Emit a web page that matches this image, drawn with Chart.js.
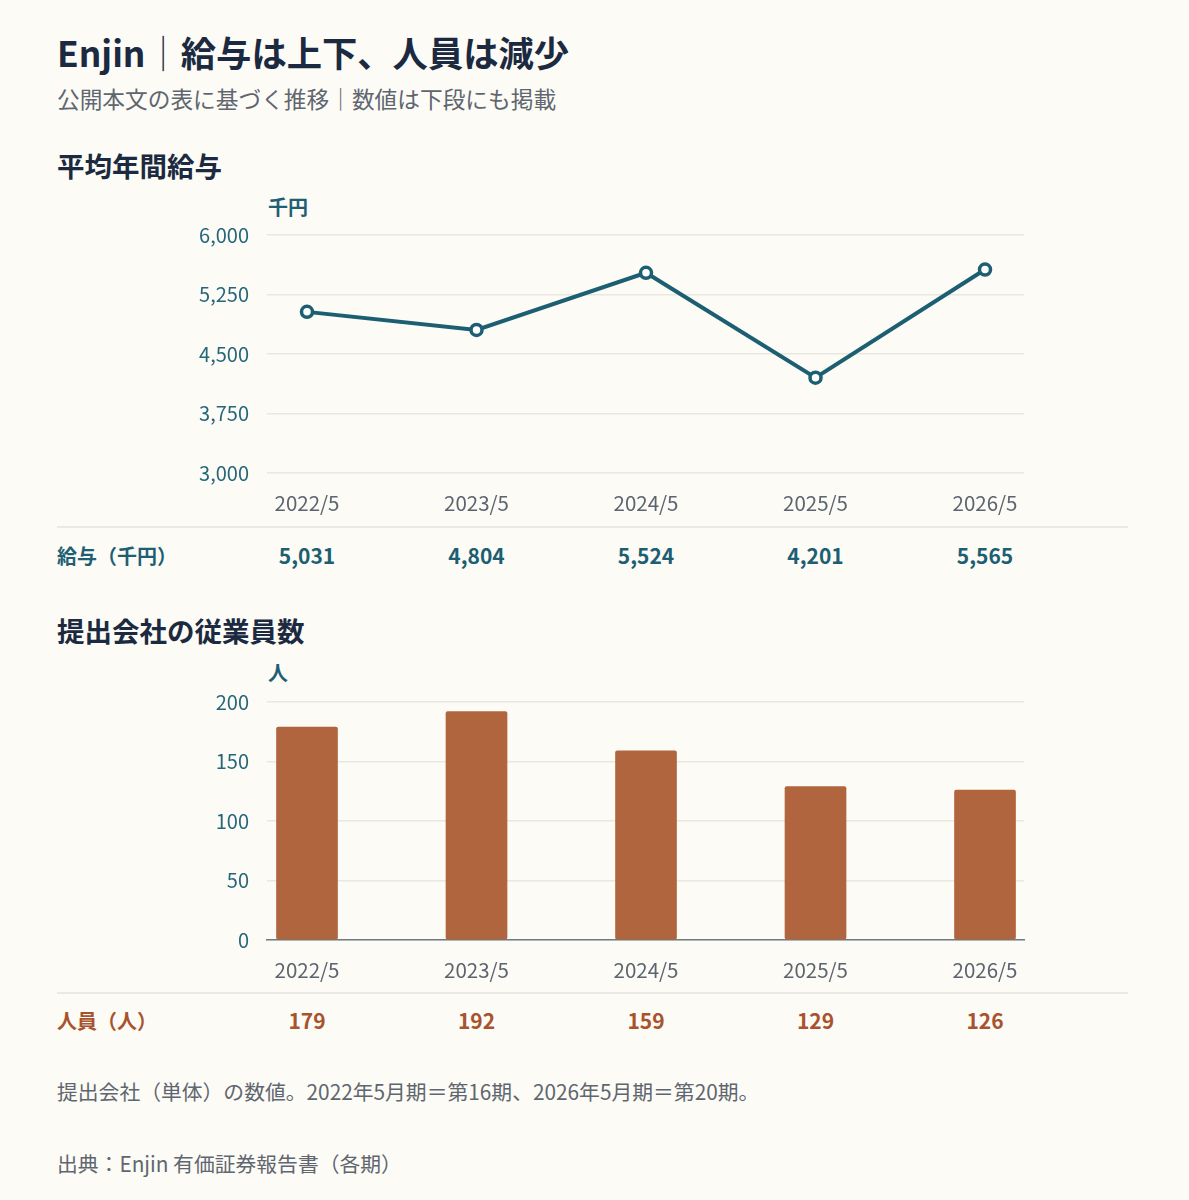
<!DOCTYPE html>
<html lang="ja">
<head>
<meta charset="utf-8">
<title>Enjin 給与と人員</title>
<script src="https://cdn.jsdelivr.net/npm/chart.js@4.4.1/dist/chart.umd.min.js"></script>
<style>
    html, body {
        margin: 0;
        padding: 0;
        background: #fcfbf5;
    }
    body {
        width: 1189px;
        height: 1200px;
        position: relative;
        overflow: hidden;
        font-family: 'Noto Sans CJK JP', 'Noto Sans', sans-serif;
    }
    .txt {
        position: absolute;
        line-height: 1;
        white-space: nowrap;
    }
    .title { left: 57px; top: 34px; font-size: 35.3px; font-weight: 700; color: #1b2a40; }
    .title .sep { font-weight: 300; color: #1b2a40; }
    .subtitle { left: 57px; top: 88px; font-size: 22.7px; color: #5f6670; }
    .section { left: 57px; font-size: 27.5px; font-weight: 700; color: #1b2a40; }
    .unit { left: 268px; font-size: 20px; font-weight: 700; color: #1f5f74; }
    .rowlabel { left: 57px; font-size: 20px; font-weight: 700; }
    .val { font-size: 21px; font-weight: 700; transform: translateX(-50%); }
    .rule { position: absolute; left: 57px; width: 1071px; height: 2px; background: #ebe9e2; }
    .note { left: 57px; font-size: 20.8px; color: #5f6670; }
    canvas { position: absolute; left: 0; }
</style>
</head>
<body>

<div class="txt title">Enjin<span class="sep">｜</span>給与は上下、人員は減少</div>
<div class="txt subtitle">公開本文の表に基づく推移｜数値は下段にも掲載</div>

<div class="txt section" style="top:152px">平均年間給与</div>
<div class="txt unit" style="top:197px">千円</div>
<canvas id="salaryChart" width="1189" height="320" style="top:205px"></canvas>
<div class="rule" style="top:526px"></div>
<div class="txt rowlabel" style="top:546px; color:#1f5f74">給与（千円）</div>
<div id="salaryRow"></div>

<div class="txt section" style="top:617px">提出会社の従業員数</div>
<div class="txt unit" style="top:663px">人</div>
<canvas id="staffChart" width="1189" height="320" style="top:672px"></canvas>
<div class="rule" style="top:992px"></div>
<div class="txt rowlabel" style="top:1011px; color:#a8532d">人員（人）</div>
<div id="staffRow"></div>

<div class="txt note" style="top:1081px">提出会社（単体）の数値。2022年5月期＝第16期、2026年5月期＝第20期。</div>
<div class="txt note" style="top:1153px">出典：Enjin 有価証券報告書（各期）</div>

<script>
// Fiscal periods (May year-end)
const periods = ['2022/5', '2023/5', '2024/5', '2025/5', '2026/5'];

// Average annual salary, thousand yen
const salary = [5031, 4804, 5524, 4201, 5565];

// Employees of the filing company
const staff = [179, 192, 159, 129, 126];

// Y axis ticks
const salaryTicks = [3000, 3750, 4500, 5250, 6000];
const staffTicks = [0, 50, 100, 150, 200];

const TEAL = '#1c5e72';
const RUST = '#b0653f';
const GRID = '#e9e7e0';

Chart.defaults.font.family = "'Noto Sans CJK JP', 'Noto Sans', sans-serif";
Chart.defaults.animation = false;

const fmt = v => v.toLocaleString('en-US');

/**
 * Shared x axis: linear so the grid can run past the first and last period
 */
function periodAxis(borderDisplay) {
    return {
        type: 'linear',
        offset: false,
        min: -0.236,
        max: 4.23,
        afterBuildTicks: scale => {
            scale.ticks = periods.map((p, i) => ({ value: i }));
        },
        afterFit: scale => { scale.height = 52; },
        ticks: {
            padding: 18,
            color: '#5b6470',
            font: { size: 20.5 },
            callback: v => periods[v] ?? ''
        },
        grid: { display: false, drawTicks: false, offset: false },
        border: borderDisplay
            ? { display: true, color: '#6d7d85', width: 1.5 }
            : { display: false }
    };
}

function valueAxis(ticks) {
    return {
        min: ticks[0],
        max: ticks[ticks.length - 1],
        afterBuildTicks: scale => {
            scale.ticks = ticks.map(v => ({ value: v }));
        },
        afterFit: scale => { scale.width = 267; },
        ticks: {
            padding: 18,
            color: '#25667a',
            font: { size: 20 },
            callback: v => fmt(v)
        },
        grid: { color: GRID, lineWidth: 1.5, drawTicks: false },
        border: { display: false }
    };
}

const baseOptions = {
    responsive: false,
    layout: { padding: { top: 10, right: 165, bottom: 0, left: 0 } },
    plugins: { legend: { display: false }, tooltip: { enabled: false } }
};

const salaryChart = new Chart(document.getElementById('salaryChart'), {
    type: 'line',
    data: {
        datasets: [{
            data: salary.map((v, i) => ({ x: i, y: v })),
            borderColor: TEAL,
            borderWidth: 4,
            pointRadius: 5.5,
            pointBorderWidth: 3.5,
            pointBackgroundColor: '#ffffff',
            pointBorderColor: TEAL,
            tension: 0
        }]
    },
    options: {
        ...baseOptions,
        scales: { x: periodAxis(false), y: valueAxis(salaryTicks) }
    }
});

const staffChart = new Chart(document.getElementById('staffChart'), {
    type: 'bar',
    data: {
        datasets: [{
            data: staff.map((v, i) => ({ x: i, y: v })),
            backgroundColor: RUST,
            borderRadius: 2,
            borderSkipped: false,
            barThickness: 61
        }]
    },
    options: {
        ...baseOptions,
        scales: { x: periodAxis(true), y: valueAxis(staffTicks) }
    }
});

/**
 * Value row under each chart, aligned to the chart's own x scale
 */
function buildRow(chart, rowId, values, top, color) {
    const row = document.getElementById(rowId);
    const canvasLeft = chart.canvas.offsetLeft;
    values.forEach((v, i) => {
        const el = document.createElement('div');
        el.className = 'txt val';
        el.textContent = fmt(v);
        el.style.left = (canvasLeft + chart.scales.x.getPixelForValue(i)) + 'px';
        el.style.top = top + 'px';
        el.style.color = color;
        row.appendChild(el);
    });
}

buildRow(salaryChart, 'salaryRow', salary, 545, '#1c5e72');
buildRow(staffChart, 'staffRow', staff, 1010, '#a8532d');
</script>
</body>
</html>
